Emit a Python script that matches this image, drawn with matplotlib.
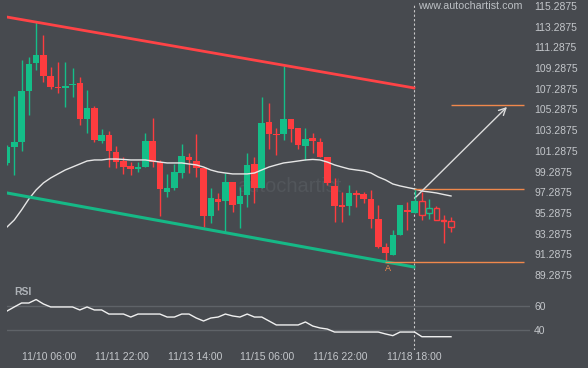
import matplotlib.pyplot as plt
import numpy as np

plt.rcParams['font.family'] = ['Liberation Sans', 'DejaVu Sans']

# 4h candles
opens = [100.12, 101.66, 102.15, 107.07, 109.78, 110.55, 108.52, 107.46, 107.37, 107.65,
         107.85, 104.37, 105.43, 102.24, 102.82, 101.18, 100.31, 99.83, 99.54, 99.73,
         102.24, 100.21, 97.32, 97.70, 99.15, 100.70, 100.31, 99.64, 94.99, 96.64,
         96.45, 98.28, 96.16, 97.03, 100.02, 97.70, 104.08, 102.92, 102.92, 104.37,
         103.50, 101.76, 102.53, 102.15, 100.70, 97.90, 96.06, 95.96, 97.22, 97.12,
         96.64, 94.71, 92.00, 91.23, 93.16, 95.58, 95.29, 96.45, 95.29, 95.77,
         94.61, 94.51]
closes = [101.66, 102.15, 107.07, 109.68, 110.55, 108.52, 107.46, 107.37, 107.56, 107.75,
          104.37, 105.43, 102.34, 102.82, 101.28, 100.21, 99.73, 99.54, 99.73, 102.24,
          100.21, 97.61, 97.70, 99.25, 100.79, 100.41, 99.64, 94.99, 96.74, 96.35,
          98.28, 96.06, 96.93, 99.93, 97.70, 103.98, 102.92, 102.82, 104.37, 103.40,
          101.86, 102.44, 102.24, 100.70, 98.19, 95.96, 95.87, 97.22, 97.03, 96.64,
          94.71, 92.00, 91.42, 93.16, 96.06, 95.38, 96.45, 95.09, 95.77, 94.61,
          94.51, 93.93]
highs = [101.86, 106.59, 110.07, 110.36, 113.74, 112.48, 109.39, 109.88, 109.88, 109.30,
         108.43, 107.17, 105.63, 103.40, 103.21, 101.76, 100.70, 100.21, 100.21, 103.02,
         104.47, 100.41, 99.06, 100.02, 101.95, 101.08, 102.92, 99.64, 97.70, 97.22,
         99.15, 98.28, 97.80, 101.08, 100.70, 106.50, 105.92, 103.50, 109.49, 104.37,
         103.50, 103.50, 103.02, 102.53, 100.70, 98.67, 97.32, 97.99, 97.51, 97.32,
         97.51, 96.06, 92.39, 93.64, 96.06, 96.35, 97.70, 97.32, 96.64, 95.96,
         95.09, 94.90]
lows = [99.93, 98.96, 101.28, 104.76, 109.10, 107.94, 107.27, 106.88, 105.53, 106.50,
        103.79, 103.02, 102.15, 102.05, 99.73, 99.64, 99.06, 98.96, 99.25, 99.73,
        99.73, 94.99, 96.83, 97.51, 98.67, 99.15, 98.77, 93.93, 94.32, 95.58,
        93.45, 95.38, 93.84, 95.87, 96.25, 97.70, 101.47, 100.89, 102.34, 102.15,
        101.47, 100.41, 101.08, 100.70, 97.99, 94.42, 94.42, 95.09, 95.87, 96.25,
        93.84, 91.91, 90.55, 91.23, 93.16, 93.64, 95.29, 94.61, 94.71, 94.61,
        92.39, 93.45]

moving_avg = [93.93, 94.61, 95.58, 96.64, 97.51, 98.19, 98.67, 99.06, 99.44, 99.73,
              100.02, 100.31, 100.41, 100.41, 100.50, 100.50, 100.46, 100.41, 100.41, 100.41,
              100.31, 100.21, 100.12, 100.12, 100.12, 100.02, 99.93, 99.73, 99.44, 99.25,
              99.15, 99.06, 99.06, 99.06, 99.15, 99.44, 99.73, 99.93, 100.12, 100.21,
              100.31, 100.41, 100.46, 100.41, 100.21, 99.93, 99.73, 99.54, 99.44, 99.35,
              99.15, 98.77, 98.48, 98.09, 97.90, 97.75, 97.61, 97.41, 97.32, 97.22,
              97.07, 96.93]

rsi = [55.8, 59.2, 62.5, 62.5, 65.4, 61.7, 59.2, 59.2, 59.2, 59.2,
       56.7, 59.2, 56.7, 56.7, 53.3, 53.3, 53.3, 50.8, 53.3, 53.3,
       53.3, 53.3, 50.8, 50.8, 53.3, 53.3, 50.0, 47.5, 50.0, 50.8,
       53.3, 51.7, 50.8, 53.3, 50.8, 50.8, 47.5, 44.2, 44.2, 44.2,
       44.2, 46.7, 43.3, 41.7, 40.8, 38.3, 38.3, 38.3, 38.3, 38.3,
       38.3, 38.3, 36.7, 35.3, 38.3, 38.3, 38.3, 34.4, 34.4, 34.4,
       34.4, 34.4]

hollow_from = 57  # candles after the breakout are drawn as outlines

# pattern: channel lines, breakout, target
resist_x = [0, 55.9]
resist_y = [114.22, 107.37]
support_x = [0, 55.9]
support_y = [97.22, 90.07]
breakout_x = 55.9
target_start = (55.9, 96.64)
target_end = (68.96, 105.72)
level_target = 105.72
level_break = 97.61
level_low = 90.55

ytick_vals = np.arange(89.2875, 115.3, 2)
xtick_pos = [5.8, 15.8, 25.8, 35.8, 45.8, 55.9]
xtick_labels = ['11/10 06:00', '11/11 22:00', '11/13 14:00', '11/15 06:00',
                '11/16 22:00', '11/18 18:00']

bg = '#474a4f'
green = '#14be88'
red = '#fd3c3f'
orange = '#f0884c'
txt = '#c3c6ca'

fig = plt.figure(figsize=(5.88, 3.68), dpi=100, facecolor=bg)
ax = fig.add_axes([7 / 588, 1 - 283 / 368, 523 / 588, 283 / 368], facecolor=bg)
rax = fig.add_axes([7 / 588, 1 - 350 / 368, 523 / 588, 67 / 368], facecolor=bg)

for a in (ax, rax):
    for s in a.spines.values():
        s.set_visible(False)

ax.text(0.44, 0.34, 'autochartist', transform=ax.transAxes, fontsize=14.5,
        color='#52565b', va='center', ha='left', zorder=0)

x = np.arange(len(opens))
o = np.array(opens)
c = np.array(closes)
up = c >= o
cols = np.where(up, green, red)

ax.vlines(x, lows, highs, colors=cols, linewidth=1, zorder=2)
bottoms = np.minimum(o, c)
heights = np.maximum(np.abs(c - o), 0.12)
for i in x:
    if i >= hollow_from:
        ax.bar(i, heights[i], bottom=bottoms[i], width=0.75, facecolor=bg,
               edgecolor=cols[i], linewidth=1, zorder=3)
    else:
        ax.bar(i, heights[i], bottom=bottoms[i], width=0.9, color=cols[i],
               linewidth=0, zorder=3)

ax.plot(x, moving_avg, color='#e6e6e6', linewidth=1, zorder=4)

ax.plot(resist_x, resist_y, color='#ff4346', linewidth=2, zorder=4)
ax.plot(support_x, support_y, color='#16b886', linewidth=2.2, zorder=4)

ax.hlines(level_low, 51.9, 71.0, color=orange, linewidth=1, zorder=4)
ax.hlines(level_break, breakout_x, 71.0, color=orange, linewidth=1, zorder=4)
ax.hlines(level_target, 61.0, 71.0, color=orange, linewidth=1, zorder=4)

ax.annotate('', xy=target_end, xytext=target_start,
            arrowprops=dict(arrowstyle='->,head_length=0.5,head_width=0.25',
                            color='#dcdcdc', linewidth=1), zorder=5)

ax.text(52.4, 89.9, 'A', color=orange, fontsize=6.5, ha='center', va='center')

ax.axvline(breakout_x, ymax=0.982, color='#c8c8c8', linewidth=0.8,
           linestyle=(0, (2, 2)), zorder=1)
rax.axvline(breakout_x, color='#c8c8c8', linewidth=0.8,
            linestyle=(0, (2, 2)), zorder=1)

ax.set_xlim(0, 71.85)
ax.set_ylim(88.52, 115.867)
ax.set_xticks([])
ax.yaxis.tick_right()
ax.set_yticks(ytick_vals)
ax.set_yticklabels(['%.4f' % v for v in ytick_vals])
ax.tick_params(axis='y', length=0, pad=3, labelsize=7.5, labelcolor=txt)

ax.text(0.985, 0.978, 'www.autochartist.com', transform=ax.transAxes,
        fontsize=7.7, color='#bcc0c4', ha='right', va='center')

# RSI panel
rax.axhline(60, color='#5f6368', linewidth=1, zorder=1)
rax.axhline(40, color='#5f6368', linewidth=1, zorder=1)
rax.plot(x, rsi, color='#f0f0f0', linewidth=1, zorder=3)
rax.set_xlim(0, 71.85)
rax.set_ylim(23.33, 79.17)
rax.yaxis.tick_right()
rax.set_yticks([40, 60])
rax.tick_params(axis='y', length=0, pad=3, labelsize=7.5, labelcolor=txt)
rax.set_xticks(xtick_pos)
rax.set_xticklabels(xtick_labels)
rax.tick_params(axis='x', length=0, pad=1.5, labelsize=7.5, labelcolor=txt)
rax.text(0.013, 0.87, 'RSI', transform=rax.transAxes, fontsize=7.5,
         fontweight='bold', color='#aeb2b7', va='center')

fig.savefig('out.png', dpi=100, facecolor=bg)
